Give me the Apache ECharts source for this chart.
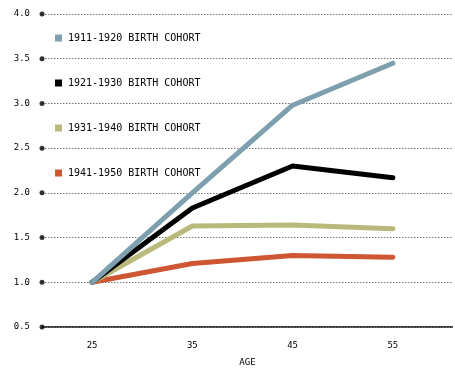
<!DOCTYPE html>
<html><head><meta charset="utf-8">
<script src="https://cdn.jsdelivr.net/npm/echarts@6/dist/echarts.min.js"></script>
<style>html,body{margin:0;padding:0;background:#fff}#c{width:455px;height:373px}</style>
</head><body><div id="c"></div>
<script>
var ages = [25, 35, 45, 55];
var cohort1911 = [1.0, 2.0, 2.98, 3.45];
var cohort1921 = [1.0, 1.83, 2.30, 2.17];
var cohort1931 = [1.0, 1.63, 1.64, 1.60];
var cohort1941 = [1.0, 1.21, 1.30, 1.28];
var names = ['1911-1920 BIRTH COHORT', '1921-1930 BIRTH COHORT', '1931-1940 BIRTH COHORT', '1941-1950 BIRTH COHORT'];
var yTicks = [0.5, 1.0, 1.5, 2.0, 2.5, 3.0, 3.5, 4.0];
var xMin = 20, xMax = 61;
var font = 'DejaVu Sans Mono';
function pairs(v){ return ages.map(function(a,i){ return [a, v[i]]; }); }
var colors = ['#7e9fad', '#000000', '#b9b97b', '#cf5633'];
var chart = echarts.init(document.getElementById('c'));
function line(name, data, color){
  return {name:name, type:'line', data:pairs(data), showSymbol:false, symbol:'none',
    lineStyle:{width:5, color:color, cap:'round', join:'round'}, itemStyle:{color:color}};
}
chart.setOption({
  animation:false,
  grid:{left:42, right:2, top:14, bottom:46},
  legend:{orient:'vertical', left:50, top:28, itemGap:35, itemWidth:7, itemHeight:7, icon:'rect',
    data:names, textStyle:{fontFamily:font, fontSize:10, color:'#000', padding:[0,0,0,1]}},
  xAxis:{type:'value', min:xMin, max:xMax, name:'AGE', nameLocation:'middle', nameGap:31,
    nameTextStyle:{fontFamily:font, fontSize:9, color:'#000'},
    axisLine:{show:false}, axisTick:{show:false}, splitLine:{show:false},
    axisLabel:{customValues:ages, fontFamily:font, fontSize:9, color:'#000', margin:14}},
  yAxis:{type:'value', min:0.5, max:4.0, interval:0.5,
    axisLine:{show:false}, axisTick:{show:false},
    axisLabel:{formatter:function(v){return v.toFixed(1);}, fontFamily:font, fontSize:9, color:'#000', margin:12},
    splitLine:{show:true, lineStyle:{type:[1.5,1.5], color:'#777', width:1.2}}},
  series:[
    {type:'line', data:[[xMin,0.5],[xMax,0.5]], symbol:'none', lineStyle:{color:'#000', width:1.5}, silent:true, z:1},
    line(names[3], cohort1941, colors[3]),
    line(names[2], cohort1931, colors[2]),
    line(names[1], cohort1921, colors[1]),
    line(names[0], cohort1911, colors[0]),
    {type:'scatter', data:yTicks.map(function(t){return [xMin,t];}), symbol:'circle', symbolSize:5,
      itemStyle:{color:'#000'}, silent:true, z:5}
  ]
});
</script></body></html>
